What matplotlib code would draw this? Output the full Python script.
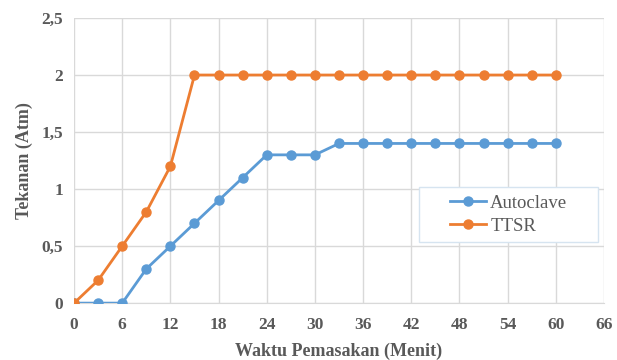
import matplotlib
matplotlib.use("Agg")
import matplotlib.pyplot as plt
from matplotlib.patches import Rectangle
from matplotlib.ticker import FuncFormatter

minutes = [0, 3, 6, 9, 12, 15, 18, 21, 24, 27, 30, 33, 36, 39, 42, 45, 48, 51, 54, 57, 60]
autoclave = [0, 0, 0, 0.3, 0.5, 0.7, 0.9, 1.1, 1.3, 1.3, 1.3, 1.4, 1.4, 1.4, 1.4, 1.4, 1.4, 1.4, 1.4, 1.4, 1.4]
ttsr = [0, 0.2, 0.5, 0.8, 1.2, 2.0, 2.0, 2.0, 2.0, 2.0, 2.0, 2.0, 2.0, 2.0, 2.0, 2.0, 2.0, 2.0, 2.0, 2.0, 2.0]
xticks = list(range(0, 67, 6))
yticks = [0, 0.5, 1, 1.5, 2, 2.5]

plt.rcParams['font.family'] = ['Liberation Serif', 'DejaVu Serif']
grey = '#595959'

fig = plt.figure(figsize=(6.17, 3.6), dpi=100)
ax = fig.add_axes([0.12, 0.158, 0.859, 0.792])

ax.plot(minutes, autoclave, color='#5b9bd5', lw=2, marker='o', ms=6.5, label='Autoclave', zorder=3)
ax.plot(minutes, ttsr, color='#ed7d31', lw=2, marker='o', ms=6.5, label='TTSR', zorder=3)

ax.set_xlim(0, 66)
ax.set_ylim(0, 2.5)
ax.set_xticks(xticks)
ax.set_yticks(yticks)
ax.yaxis.set_major_formatter(FuncFormatter(lambda v, p: ('%g' % v).replace('.', ',')))
ax.grid(True, color='#d9d9d9', lw=1)
ax.set_axisbelow(True)
for s in ['top', 'right', 'left']:
    ax.spines[s].set_visible(False)
ax.spines['bottom'].set_color('#d9d9d9')
ax.tick_params(length=0, pad=8, labelsize=12.5, labelcolor=grey)
for lab in ax.get_xticklabels() + ax.get_yticklabels():
    lab.set_fontweight('bold')
ax.set_xlabel('Waktu Pemasakan (Menit)', fontsize=13, fontweight='bold', color=grey, labelpad=7)
ax.set_ylabel('Tekanan (Atm)', fontsize=13, fontweight='bold', color=grey, labelpad=6)
ax.tick_params(axis='x', pad=10)

# legend box (frame drawn separately so the entries can be centred in it)
bx0, by0, bx1, by1 = 0.651, 0.214, 0.989, 0.407
ax.add_patch(Rectangle((bx0, by0), bx1 - bx0, by1 - by0, transform=ax.transAxes,
                       facecolor='white', edgecolor='#d6e4f0', lw=1, zorder=4))
leg = ax.legend(loc='center', bbox_to_anchor=((bx0 + bx1) / 2, (by0 + by1) / 2),
                borderaxespad=0, fontsize=13.5, frameon=False, borderpad=0.2,
                labelspacing=0.3, handlelength=1.9, handletextpad=0.25)
leg.set_zorder(5)
for t in leg.get_texts():
    t.set_color(grey)

fig.savefig('out.png', dpi=100)
